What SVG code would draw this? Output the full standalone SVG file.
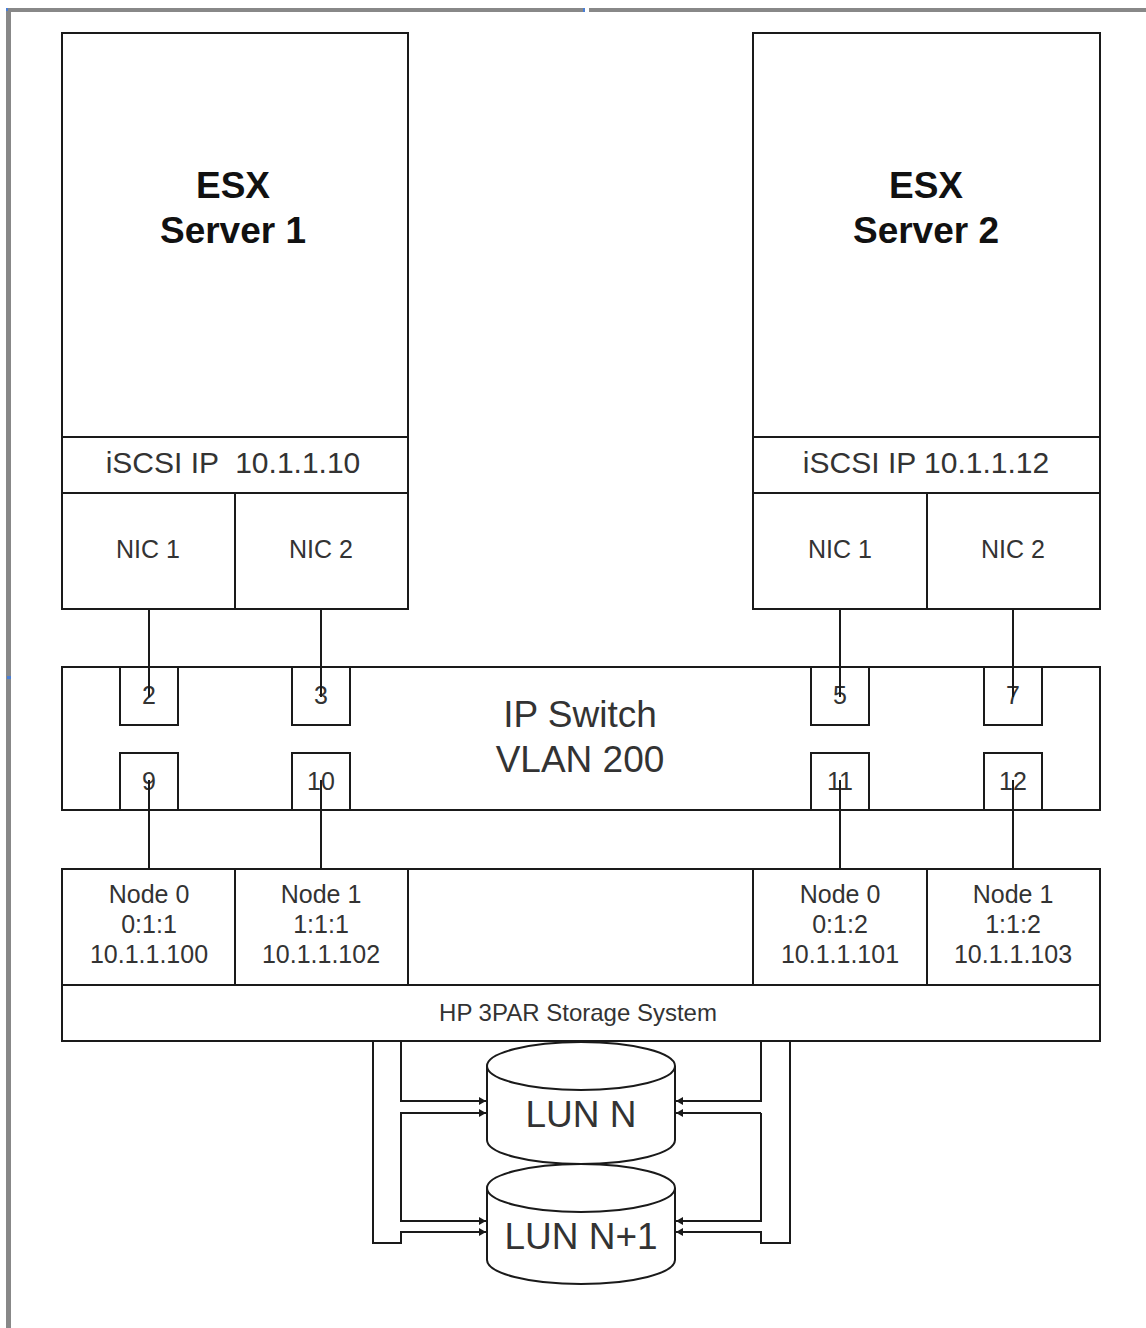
<svg xmlns="http://www.w3.org/2000/svg" width="1146" height="1328" viewBox="0 0 1146 1328">
<style>
.box{fill:#fff;stroke:#1a1a1a;stroke-width:2}
.ln{fill:none;stroke:#1a1a1a;stroke-width:2}
.t{font-family:"Liberation Sans",Arial,sans-serif;fill:#333;text-anchor:middle}
.b{font-weight:bold;fill:#111;font-size:37px}
.m{font-size:25px}
.l{font-size:37px}
</style>
<defs>
<marker id="ah" markerWidth="8" markerHeight="8" refX="7" refY="4" orient="auto" markerUnits="userSpaceOnUse">
<path d="M0,0 L7,4 L0,8 z" fill="#1a1a1a"/>
</marker>
</defs>
<rect width="1146" height="1328" fill="#fff"/>
<g id="frame">
<rect x="6" y="8" width="578" height="4" fill="#888"/>
<rect x="589" y="8" width="557" height="4" fill="#888"/>
<rect x="6" y="8" width="5" height="1320" fill="#888"/>
<rect x="583" y="8" width="2" height="4" fill="#4a7fd6"/>
<rect x="6" y="8" width="2" height="3" fill="#4a7fd6"/>
<rect x="7" y="676" width="4" height="3" fill="#4a7fd6"/>
</g>
<g id="server1">
<rect class="box" x="62" y="33" width="346" height="576"/>
<line class="ln" x1="62" y1="437" x2="408" y2="437"/>
<line class="ln" x1="62" y1="493" x2="408" y2="493"/>
<line class="ln" x1="235" y1="493" x2="235" y2="609"/>
<text class="t b" x="233" y="198">ESX</text>
<text class="t b" x="233" y="243">Server 1</text>
<text class="t" x="233" y="473" font-size="30" xml:space="preserve">iSCSI IP  10.1.1.10</text>
<text class="t m" x="148" y="558">NIC 1</text>
<text class="t m" x="321" y="558">NIC 2</text>
</g>
<g id="server2">
<rect class="box" x="753" y="33" width="347" height="576"/>
<line class="ln" x1="753" y1="437" x2="1100" y2="437"/>
<line class="ln" x1="753" y1="493" x2="1100" y2="493"/>
<line class="ln" x1="927" y1="493" x2="927" y2="609"/>
<text class="t b" x="926" y="198">ESX</text>
<text class="t b" x="926" y="243">Server 2</text>
<text class="t" x="926" y="473" font-size="30">iSCSI IP 10.1.1.12</text>
<text class="t m" x="840" y="558">NIC 1</text>
<text class="t m" x="1013" y="558">NIC 2</text>
</g>
<g id="switch">
<rect class="box" x="62" y="667" width="1038" height="143"/>
<text class="t l" x="580" y="727">IP Switch</text>
<text class="t l" x="580" y="772">VLAN 200</text>
</g>
<g id="port2"><rect class="box" x="120" y="667" width="58" height="58"/><text class="t m" x="149" y="704">2</text></g>
<g id="port3"><rect class="box" x="292" y="667" width="58" height="58"/><text class="t m" x="321" y="704">3</text></g>
<g id="port5"><rect class="box" x="811" y="667" width="58" height="58"/><text class="t m" x="840" y="704">5</text></g>
<g id="port7"><rect class="box" x="984" y="667" width="58" height="58"/><text class="t m" x="1013" y="704">7</text></g>
<g id="port9"><rect class="box" x="120" y="753" width="58" height="57"/><text class="t m" x="149" y="790">9</text></g>
<g id="port10"><rect class="box" x="292" y="753" width="58" height="57"/><text class="t m" x="321" y="790">10</text></g>
<g id="port11"><rect class="box" x="811" y="753" width="58" height="57"/><text class="t m" x="840" y="790">11</text></g>
<g id="port12"><rect class="box" x="984" y="753" width="58" height="57"/><text class="t m" x="1013" y="790">12</text></g>
<g id="storage">
<rect class="box" x="62" y="869" width="1038" height="172"/>
<line class="ln" x1="62" y1="985" x2="1100" y2="985"/>
<line class="ln" x1="235" y1="869" x2="235" y2="985"/>
<line class="ln" x1="408" y1="869" x2="408" y2="985"/>
<line class="ln" x1="753" y1="869" x2="753" y2="985"/>
<line class="ln" x1="927" y1="869" x2="927" y2="985"/>
<text class="t m" x="149" y="903">Node 0</text>
<text class="t m" x="149" y="933">0:1:1</text>
<text class="t m" x="149" y="963">10.1.1.100</text>
<text class="t m" x="321" y="903">Node 1</text>
<text class="t m" x="321" y="933">1:1:1</text>
<text class="t m" x="321" y="963">10.1.1.102</text>
<text class="t m" x="840" y="903">Node 0</text>
<text class="t m" x="840" y="933">0:1:2</text>
<text class="t m" x="840" y="963">10.1.1.101</text>
<text class="t m" x="1013" y="903">Node 1</text>
<text class="t m" x="1013" y="933">1:1:2</text>
<text class="t m" x="1013" y="963">10.1.1.103</text>
<text class="t" x="578" y="1021" font-size="24">HP 3PAR Storage System</text>
</g>
<g id="lunN">
<path class="box" d="M487,1066 L487,1140 A94,24 0 0 0 675,1140 L675,1066 A94,24 0 0 0 487,1066 Z"/>
<path class="ln" d="M487,1066 A94,24 0 0 0 675,1066"/>
<text class="t l" x="581" y="1127">LUN N</text>
</g>
<g id="lunN1">
<path class="box" d="M487,1188 L487,1260 A94,24 0 0 0 675,1260 L675,1188 A94,24 0 0 0 487,1188 Z"/>
<path class="ln" d="M487,1188 A94,24 0 0 0 675,1188"/>
<text class="t l" x="581" y="1249">LUN N+1</text>
</g>
<g id="connectors">
<line class="ln" x1="149" y1="609" x2="149" y2="697"/>
<line class="ln" x1="321" y1="609" x2="321" y2="697"/>
<line class="ln" x1="840" y1="609" x2="840" y2="697"/>
<line class="ln" x1="1013" y1="609" x2="1013" y2="697"/>
<line class="ln" x1="149" y1="780" x2="149" y2="869"/>
<line class="ln" x1="321" y1="780" x2="321" y2="869"/>
<line class="ln" x1="840" y1="780" x2="840" y2="869"/>
<line class="ln" x1="1013" y1="780" x2="1013" y2="869"/>
<path class="ln" d="M401,1041 L401,1101 L486,1101" marker-end="url(#ah)"/>
<path class="ln" d="M486,1113 L401,1113 L401,1221 L486,1221" marker-end="url(#ah)"/>
<path class="ln" d="M401,1113 L486,1113" marker-end="url(#ah)"/>
<path class="ln" d="M373,1041 L373,1243 L401,1243 L401,1232 L486,1232" marker-end="url(#ah)"/>
<path class="ln" d="M761,1041 L761,1101 L676,1101" marker-end="url(#ah)"/>
<path class="ln" d="M761,1113 L761,1221 L676,1221" marker-end="url(#ah)"/>
<path class="ln" d="M761,1113 L676,1113" marker-end="url(#ah)"/>
<path class="ln" d="M790,1041 L790,1243 L761,1243 L761,1232 L676,1232" marker-end="url(#ah)"/>
</g>
</svg>
